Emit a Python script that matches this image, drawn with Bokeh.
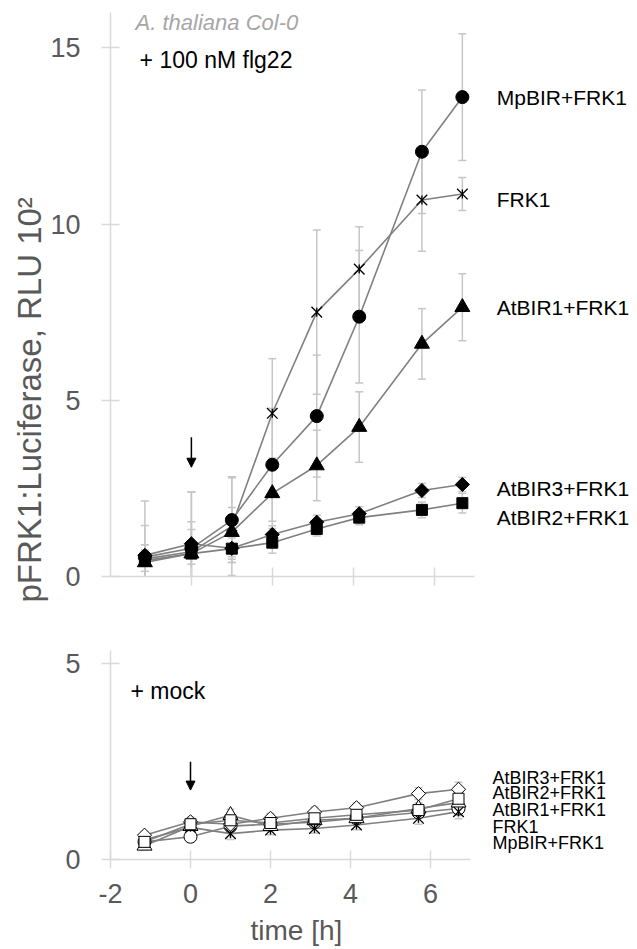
import numpy as np
from bokeh.plotting import figure
from bokeh.models import (ColumnDataSource, Range1d, Whisker, TeeHead, Label,
                          Arrow, NormalHead, FixedTicker, Title)
from bokeh.layouts import column
from bokeh.embed import file_html
from bokeh.resources import INLINE

# ---------------- data ----------------
time_h = [-1.15, 0.0, 1.0, 2.0, 3.1, 4.15, 5.7, 6.7]
series = ["MpBIR+FRK1", "FRK1", "AtBIR1+FRK1", "AtBIR3+FRK1", "AtBIR2+FRK1"]
markers = ["circle", "star", "triangle", "diamond", "square"]

# + 100 nM flg22 (RLU x 10^2)
flg_mpbir = [0.55, 0.80, 1.60, 3.17, 4.55, 7.37, 12.05, 13.60]
flg_frk1 = [0.50, 0.70, 1.43, 4.63, 7.50, 8.72, 10.68, 10.85]
flg_atbir1 = [0.40, 0.65, 1.26, 2.36, 3.15, 4.24, 6.60, 7.64]
flg_atbir3 = [0.60, 0.93, 0.80, 1.19, 1.54, 1.78, 2.44, 2.61]
flg_atbir2 = [0.45, 0.65, 0.79, 0.96, 1.35, 1.67, 1.89, 2.08]

flg_mpbir_err = [0.90, 1.60, 1.20, 1.60, 1.73, 1.88, 1.75, 1.80]
flg_frk1_err = [1.64, 1.70, 1.40, 1.55, 2.33, 1.20, 1.45, 0.47]
flg_atbir1_err = [0.50, 0.90, 0.70, 1.00, 1.00, 1.00, 1.00, 0.95]
flg_atbir3_err = [0.30, 0.40, 0.40, 0.25, 0.20, 0.20, 0.20, 0.20]
flg_atbir2_err = [0.30, 0.30, 0.30, 0.30, 0.20, 0.20, 0.22, 0.28]

# + mock
mock_mpbir = [0.45, 0.58, 0.85, 0.90, 0.95, 1.05, 1.20, 1.30]
mock_frk1 = [0.50, 0.82, 0.66, 0.75, 0.79, 0.88, 1.05, 1.22]
mock_atbir1 = [0.35, 0.85, 1.13, 0.85, 1.00, 1.05, 1.30, 1.45]
mock_atbir3 = [0.62, 0.96, 0.90, 1.05, 1.21, 1.32, 1.68, 1.79]
mock_atbir2 = [0.45, 0.90, 1.00, 0.93, 1.05, 1.14, 1.26, 1.55]
mock_err = [0.10, 0.12, 0.15, 0.12, 0.12, 0.12, 0.15, 0.18]

flg_values = [flg_mpbir, flg_frk1, flg_atbir1, flg_atbir3, flg_atbir2]
flg_errors = [flg_mpbir_err, flg_frk1_err, flg_atbir1_err, flg_atbir3_err, flg_atbir2_err]
mock_values = [mock_mpbir, mock_frk1, mock_atbir1, mock_atbir3, mock_atbir2]

# end-of-line label positions (value axis)
label_x = 7.55
flg_label_y = [13.6, 10.7, 7.63, 2.5, 1.67]
mock_label_order = ["AtBIR3+FRK1", "AtBIR2+FRK1", "AtBIR1+FRK1", "FRK1", "MpBIR+FRK1"]
mock_label_y = [2.07, 1.69, 1.26, 0.83, 0.42]

arrow_x = 0.0
flg_arrow_y = [3.95, 3.10]
mock_arrow_y = [2.49, 1.77]

upper_yticks = [0, 5, 10, 15]
lower_yticks = [0, 5]
xticks = [-2, 0, 2, 4, 6]
x_axis_bounds = (-2, 7)

FONT = "Liberation Sans"
AXIS_GRAY = "#d9d9d9"
LABEL_GRAY = "#595959"
LINE_GRAY = "#808080"
ERR_GRAY = "#c6c6c6"


def style_axes(p, show_x_labels):
    for ax in (p.xaxis[0], p.yaxis[0]):
        ax.axis_line_color = AXIS_GRAY
        ax.axis_line_width = 1.5
        ax.major_tick_line_color = AXIS_GRAY
        ax.major_tick_line_width = 1.5
        ax.major_tick_in = 9
        ax.major_tick_out = 9
        ax.minor_tick_line_color = None
        ax.major_label_text_font = FONT
        ax.major_label_text_font_size = "27px"
        ax.major_label_text_color = LABEL_GRAY
    p.xaxis[0].bounds = x_axis_bounds
    p.yaxis[0].major_label_standoff = 21
    p.xaxis[0].major_label_standoff = 15
    p.xaxis[0].major_label_overrides = {t: str(t) for t in xticks}
    if not show_x_labels:
        p.xaxis[0].major_label_text_color = None
        p.xaxis[0].major_label_text_font_size = "10px"


def draw_series(p, values_list, errors_list, filled):
    for vals, errs in zip(values_list, errors_list):
        v = np.array(vals)
        e = np.array(errs)
        src = ColumnDataSource(dict(x=time_h, y=vals, upper=v + e, lower=v - e))
        w = Whisker(source=src, base="x", upper="upper", lower="lower",
                    line_color=ERR_GRAY, line_width=1.5,
                    upper_head=TeeHead(size=8, line_color=ERR_GRAY, line_width=1.5),
                    lower_head=TeeHead(size=8, line_color=ERR_GRAY, line_width=1.5))
        p.add_layout(w)
    for vals in values_list:
        src = ColumnDataSource(dict(x=time_h, y=vals))
        p.line("x", "y", source=src, line_color=LINE_GRAY, line_width=1.6)
    fill = "black" if filled else "white"
    for vals, mk in zip(values_list, markers):
        src = ColumnDataSource(dict(x=time_h, y=vals))
        if mk == "diamond":
            p.scatter("x", "y", source=src, marker="square", angle=np.pi / 4, size=10,
                      fill_color=fill, line_color="black", line_width=1)
        elif mk == "star":
            p.scatter("x", "y", source=src, marker="x", size=15,
                      line_color="black", line_width=1.3)
            p.scatter("x", "y", source=src, marker="dash", angle=np.pi / 2, size=9,
                      line_color="black", line_width=1.3)
        elif mk == "triangle":
            p.scatter("x", "y", source=src, marker="triangle", size=15,
                      fill_color=fill, line_color="black", line_width=1)
        elif mk == "square":
            p.scatter("x", "y", source=src, marker="square", size=11,
                      fill_color=fill, line_color="black", line_width=1)
        else:
            p.scatter("x", "y", source=src, marker="circle", size=13,
                      fill_color=fill, line_color="black", line_width=1)


# ---------------- upper panel: + 100 nM flg22 ----------------
UP_FRAME_W = 530
p1 = figure(frame_width=UP_FRAME_W, frame_height=564,
            x_range=Range1d(-2, -2 + UP_FRAME_W * 9 / 364), y_range=Range1d(0, 16),
            output_backend="svg", toolbar_location=None,
            min_border_left=104, min_border_right=0, min_border_top=12, min_border_bottom=64)
p1.outline_line_color = None
p1.grid.visible = False
p1.xaxis.ticker = FixedTicker(ticks=xticks[1:])
p1.yaxis.ticker = FixedTicker(ticks=upper_yticks)
style_axes(p1, show_x_labels=False)
draw_series(p1, flg_values, flg_errors, filled=True)

for name, ly in zip(series, flg_label_y):
    p1.add_layout(Label(x=label_x, y=ly, text=name, text_font=FONT, text_font_size="21px",
                        text_color="black", text_baseline="middle", text_align="left"))

p1.add_layout(Label(x=-1.38, y=15.72, text="A. thaliana Col-0", text_font=FONT,
                    text_font_size="22px", text_font_style="italic", text_color="#a6a6a6",
                    text_baseline="middle"))
p1.add_layout(Label(x=-1.28, y=14.64, text="+ 100 nM flg22", text_font=FONT,
                    text_font_size="23px", text_color="black", text_baseline="middle"))
p1.add_layout(Arrow(x_start=arrow_x, y_start=flg_arrow_y[0], x_end=arrow_x, y_end=flg_arrow_y[1],
                    line_color="black", line_width=1.5,
                    end=NormalHead(size=9, fill_color="black", line_color="black")))
p1.add_layout(Title(text="pFRK1:Luciferase, RLU 10²", align="left", offset=-26, standoff=0,
                    text_font=FONT, text_font_size="33px", text_font_style="normal",
                    text_color=LABEL_GRAY), "left")

# ---------------- lower panel: + mock ----------------
LO_FRAME_W = 524
p2 = figure(frame_width=LO_FRAME_W, frame_height=209,
            x_range=Range1d(-2, -2 + LO_FRAME_W * 9 / 360), y_range=Range1d(0, 5.33),
            output_backend="svg", toolbar_location=None,
            min_border_left=110, min_border_right=0, min_border_top=10, min_border_bottom=86)
p2.outline_line_color = None
p2.grid.visible = False
p2.xaxis.ticker = FixedTicker(ticks=xticks)
p2.yaxis.ticker = FixedTicker(ticks=lower_yticks)
style_axes(p2, show_x_labels=True)
draw_series(p2, mock_values, [mock_err] * 5, filled=False)
p2.add_layout(Title(text="time [h]", align="left", offset=140, standoff=14,
                    text_font=FONT, text_font_size="28px", text_font_style="normal",
                    text_color=LABEL_GRAY), "below")

for name, ly in zip(mock_label_order, mock_label_y):
    p2.add_layout(Label(x=label_x, y=ly, text=name, text_font=FONT, text_font_size="18px",
                        text_color="black", text_baseline="middle", text_align="left"))
p2.add_layout(Label(x=-1.5, y=4.29, text="+ mock", text_font=FONT,
                    text_font_size="23px", text_color="black", text_baseline="middle"))
p2.add_layout(Arrow(x_start=arrow_x, y_start=mock_arrow_y[0], x_end=arrow_x, y_end=mock_arrow_y[1],
                    line_color="black", line_width=1.5,
                    end=NormalHead(size=9, fill_color="black", line_color="black")))

layout = column(p1, p2, spacing=0)
open("out.html", "w").write(file_html(layout, INLINE))
